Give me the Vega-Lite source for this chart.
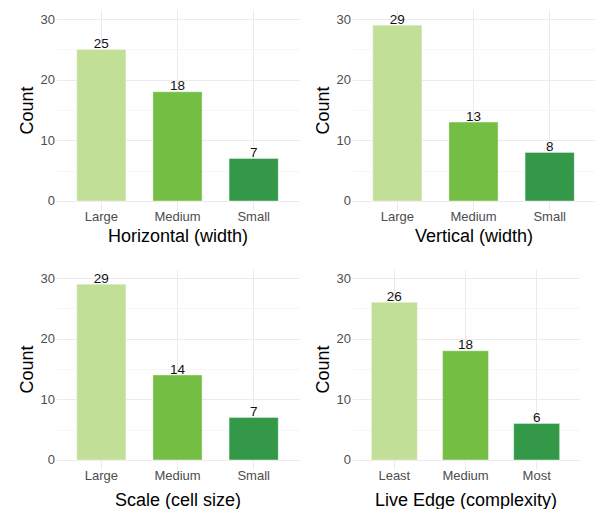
{
  "$schema": "https://vega.github.io/schema/vega-lite/v6.json",
  "padding": {"left": 18, "top": 10, "right": 0, "bottom": 0},
  "background": "white",
  "config": {
    "font": "Liberation Sans",
    "view": {"stroke": null},
    "axis": {
      "domain": false,
      "ticks": false,
      "labelFont": "Liberation Sans",
      "labelFontSize": 13,
      "labelColor": "#4d4d4d",
      "titleFont": "Liberation Sans",
      "titleFontSize": 18,
      "titleFontWeight": "normal",
      "titleColor": "#000000",
      "gridColor": "#ebebeb",
      "gridWidth": 1
    },
    "axisX": {"labelAngle": 0, "bandPosition": 0.5, "grid": true, "labelPadding": 0, "titlePadding": 4},
    "axisY": {"labelPadding": 1.5, "titlePadding": 3.5},
    "text": {"font": "Liberation Sans"}
  },
  "spacing": 24,
  "vconcat": [
    {
      "spacing": 15,
      "hconcat": [
        {
          "width": 243,
          "height": 200,
          "data": {"values": [
            {"level": "Large", "count": 25},
            {"level": "Medium", "count": 18},
            {"level": "Small", "count": 7}
          ]},
          "encoding": {
            "x": {"field": "level", "type": "nominal", "sort": null, "title": "Horizontal (width)",
                  "scale": {"paddingInner": 0.355, "paddingOuter": 0.2725}},
            "y": {"field": "count", "type": "quantitative", "title": "Count",
                  "scale": {"domain": [-1.5, 31.5], "nice": false, "zero": false},
                  "axis": {"values": [0, 5, 10, 15, 20, 25, 30],
                           "labelExpr": "datum.value % 10 === 0 ? datum.label : ''",
                           "gridWidth": {"condition": {"test": "datum.value % 10 === 0", "value": 1}, "value": 0.6},
                           "gridColor": {"condition": {"test": "datum.value % 10 === 0", "value": "#ebebeb"}, "value": "#f0f0f0"}}}
          },
          "layer": [
            {"mark": {"type": "bar", "stroke": "white", "strokeWidth": 0.6, "strokeOpacity": 0.6},
             "encoding": {"y2": {"datum": 0}, "color": {"field": "level", "type": "nominal", "legend": null,
               "scale": {"domain": ["Large", "Medium", "Small", "Least", "Most"], "range": ["#c1df96", "#74be44", "#339948", "#c1df96", "#339948"]}}}},
            {"mark": {"type": "text", "baseline": "alphabetic", "dy": -1.5, "fontSize": 13.5, "color": "#111111"},
             "encoding": {"text": {"field": "count", "type": "quantitative"}}}
          ]
        },
        {
          "width": 243,
          "height": 200,
          "data": {"values": [
            {"level": "Large", "count": 29},
            {"level": "Medium", "count": 13},
            {"level": "Small", "count": 8}
          ]},
          "encoding": {
            "x": {"field": "level", "type": "nominal", "sort": null, "title": "Vertical (width)",
                  "scale": {"paddingInner": 0.355, "paddingOuter": 0.2725}},
            "y": {"field": "count", "type": "quantitative", "title": "Count",
                  "scale": {"domain": [-1.5, 31.5], "nice": false, "zero": false},
                  "axis": {"values": [0, 5, 10, 15, 20, 25, 30],
                           "labelExpr": "datum.value % 10 === 0 ? datum.label : ''",
                           "gridWidth": {"condition": {"test": "datum.value % 10 === 0", "value": 1}, "value": 0.6},
                           "gridColor": {"condition": {"test": "datum.value % 10 === 0", "value": "#ebebeb"}, "value": "#f0f0f0"}}}
          },
          "layer": [
            {"mark": {"type": "bar", "stroke": "white", "strokeWidth": 0.6, "strokeOpacity": 0.6},
             "encoding": {"y2": {"datum": 0}, "color": {"field": "level", "type": "nominal", "legend": null,
               "scale": {"domain": ["Large", "Medium", "Small", "Least", "Most"], "range": ["#c1df96", "#74be44", "#339948", "#c1df96", "#339948"]}}}},
            {"mark": {"type": "text", "baseline": "alphabetic", "dy": -1.5, "fontSize": 13.5, "color": "#111111"},
             "encoding": {"text": {"field": "count", "type": "quantitative"}}}
          ]
        }
      ]
    },
    {
      "spacing": 15,
      "hconcat": [
        {
          "width": 243,
          "height": 200,
          "data": {"values": [
            {"level": "Large", "count": 29},
            {"level": "Medium", "count": 14},
            {"level": "Small", "count": 7}
          ]},
          "encoding": {
            "x": {"field": "level", "type": "nominal", "sort": null, "title": "Scale (cell size)",
                  "scale": {"paddingInner": 0.355, "paddingOuter": 0.2725},
                  "axis": {"titlePadding": 9}},
            "y": {"field": "count", "type": "quantitative", "title": "Count",
                  "scale": {"domain": [-1.5, 31.5], "nice": false, "zero": false},
                  "axis": {"values": [0, 5, 10, 15, 20, 25, 30],
                           "labelExpr": "datum.value % 10 === 0 ? datum.label : ''",
                           "gridWidth": {"condition": {"test": "datum.value % 10 === 0", "value": 1}, "value": 0.6},
                           "gridColor": {"condition": {"test": "datum.value % 10 === 0", "value": "#ebebeb"}, "value": "#f0f0f0"}}}
          },
          "layer": [
            {"mark": {"type": "bar", "stroke": "white", "strokeWidth": 0.6, "strokeOpacity": 0.6},
             "encoding": {"y2": {"datum": 0}, "color": {"field": "level", "type": "nominal", "legend": null,
               "scale": {"domain": ["Large", "Medium", "Small", "Least", "Most"], "range": ["#c1df96", "#74be44", "#339948", "#c1df96", "#339948"]}}}},
            {"mark": {"type": "text", "baseline": "alphabetic", "dy": -1.5, "fontSize": 13.5, "color": "#111111"},
             "encoding": {"text": {"field": "count", "type": "quantitative"}}}
          ]
        },
        {
          "width": 227,
          "height": 200,
          "data": {"values": [
            {"level": "Least", "count": 26},
            {"level": "Medium", "count": 18},
            {"level": "Most", "count": 6}
          ]},
          "encoding": {
            "x": {"field": "level", "type": "nominal", "sort": null, "title": "Live Edge (complexity)",
                  "scale": {"paddingInner": 0.355, "paddingOuter": 0.2725},
                  "axis": {"titlePadding": 9}},
            "y": {"field": "count", "type": "quantitative", "title": "Count",
                  "scale": {"domain": [-1.5, 31.5], "nice": false, "zero": false},
                  "axis": {"values": [0, 5, 10, 15, 20, 25, 30],
                           "labelExpr": "datum.value % 10 === 0 ? datum.label : ''",
                           "gridWidth": {"condition": {"test": "datum.value % 10 === 0", "value": 1}, "value": 0.6},
                           "gridColor": {"condition": {"test": "datum.value % 10 === 0", "value": "#ebebeb"}, "value": "#f0f0f0"}}}
          },
          "layer": [
            {"mark": {"type": "bar", "stroke": "white", "strokeWidth": 0.6, "strokeOpacity": 0.6},
             "encoding": {"y2": {"datum": 0}, "color": {"field": "level", "type": "nominal", "legend": null,
               "scale": {"domain": ["Large", "Medium", "Small", "Least", "Most"], "range": ["#c1df96", "#74be44", "#339948", "#c1df96", "#339948"]}}}},
            {"mark": {"type": "text", "baseline": "alphabetic", "dy": -1.5, "fontSize": 13.5, "color": "#111111"},
             "encoding": {"text": {"field": "count", "type": "quantitative"}}}
          ]
        }
      ]
    }
  ]
}
